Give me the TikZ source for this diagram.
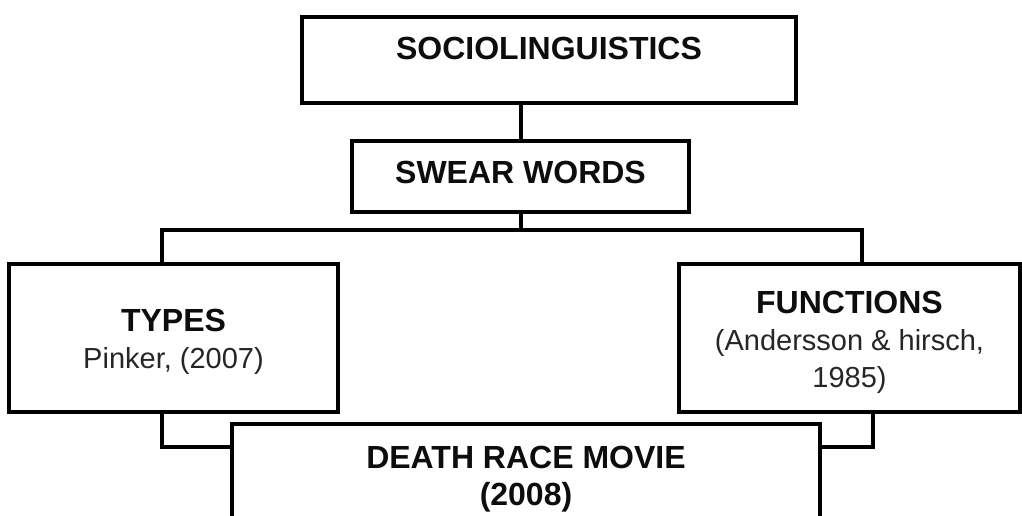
\documentclass[tikz,border=0pt]{standalone}
\usepackage{fontspec}
\setmainfont{Liberation Sans}
\newcommand{\hd}[1]{{\fontsize{32}{37}\selectfont\bfseries\color{black!95}#1}}
\tikzset{
  box/.style={draw=black, line width=4pt, fill=white, inner sep=0pt, anchor=base,
    font={\fontsize{29}{37}\selectfont}, text=black!85},
  wire/.style={draw=black, line width=4pt, line join=miter},
}
\setlength{\tabcolsep}{0pt}
\begin{document}
\begin{tikzpicture}[x=1pt,y=-1pt]
\useasboundingbox[fill=white] (0,0) rectangle (1022,515);
% boxes (anchor = baseline of first text line)
\node[box, minimum width=494pt, text height=42pt, text depth=44pt] (soc) at (549,59) {\hd{SOCIOLINGUISTICS}};
\node[box, minimum width=337pt, text height=42pt, text depth=29pt] (swear) at (520.5,183) {\hd{SWEAR WORDS}};
\node[box, minimum width=329pt, text height=67pt, text depth=81pt] (types) at (173.5,331)
  {\begin{tabular}[t]{c}\hd{TYPES}\\Pinker, (2007)\end{tabular}};
\node[box, minimum width=341pt, text height=49pt, text depth=99pt] (func) at (849.5,313)
  {\begin{tabular}[t]{c}\hd{FUNCTIONS}\\(Andersson \& hirsch,\\1985)\end{tabular}};
\node[box, minimum width=588pt, text height=44pt, text depth=92pt] (death) at (526,468)
  {\begin{tabular}[t]{c}\hd{DEATH RACE MOVIE}\\\hd{(2008)}\end{tabular}};
% connector points
\coordinate (busL) at (162,230);
\coordinate (busR) at (862,230);
\coordinate (jL) at (162,447);
\coordinate (jR) at (873,447);
% connectors
\draw[wire] (swear.north) -- (swear.north |- soc.south);
\draw[wire] (swear.south) -- (swear.south |- busL);
\draw[wire] (types.north -| busL) -- (busL) -- (busR) -- (func.north -| busR);
\draw[wire] (types.south -| jL) -- (jL) -- (jL -| death.west);
\draw[wire] (func.south -| jR) -- (jR) -- (jR -| death.east);
\end{tikzpicture}
\end{document}
